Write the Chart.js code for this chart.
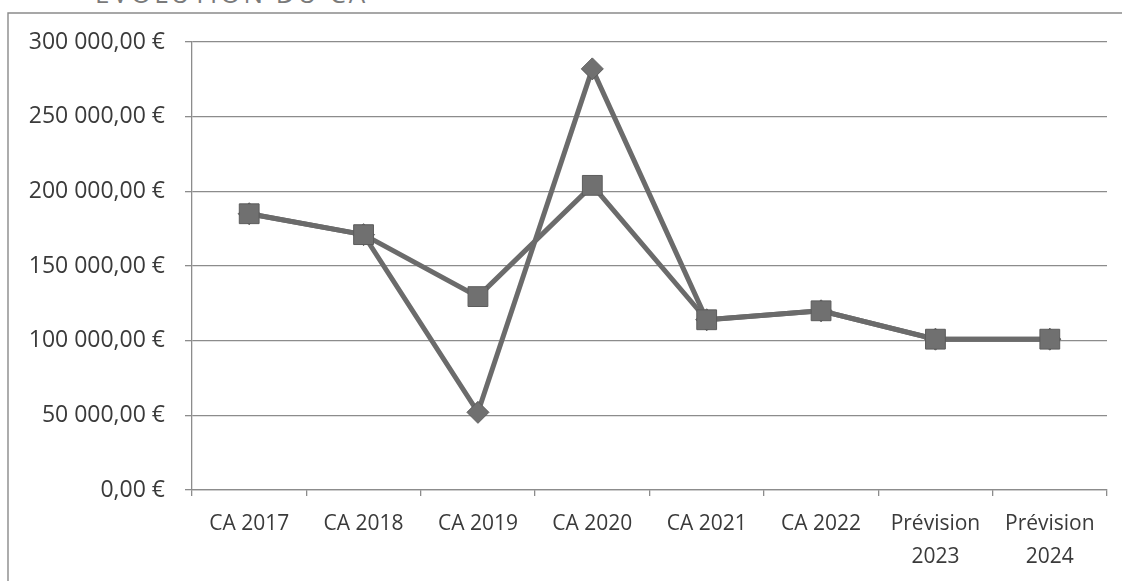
<!DOCTYPE html>
<html lang="fr">
<head>
<meta charset="utf-8">
<script src="https://cdn.jsdelivr.net/npm/chart.js@4/dist/chart.umd.min.js"></script>
<style>
  html, body { margin: 0; padding: 0; background: #fff; }
  #wrap { position: relative; width: 1122px; height: 581px; overflow: hidden; }
  #title {
    position: absolute; left: 95px; top: -25px;
    font-family: "Open Sans", sans-serif; font-size: 26px; letter-spacing: 3px;
    color: #7a7a7a; white-space: nowrap;
  }
  canvas { position: absolute; left: 0; top: 0; }
</style>
</head>
<body>
<div id="wrap">
  <div id="title">ÉVOLUTION DU CA</div>
  <canvas id="c" width="1122" height="581"></canvas>
</div>
<script>
// Categories (years and forecasts)
const categories = [
  'CA 2017', 'CA 2018', 'CA 2019', 'CA 2020', 'CA 2021', 'CA 2022',
  ['Prévision', '2023'], ['Prévision', '2024']
];

// Revenue series (square markers)
const caSquares = [185000, 171000, 129500, 204000, 114000, 120000, 101000, 101000];

// Revenue series (diamond markers)
const caDiamonds = [185000, 171000, 52000, 282000, 114000, 120000, 101000, 101000];

// Y tick values and their labels
const yTickValues = [0, 50000, 100000, 150000, 200000, 250000, 300000];
const yTickLabels = ['0,00 €', '50 000,00 €', '100 000,00 €', '150 000,00 €',
                     '200 000,00 €', '250 000,00 €', '300 000,00 €'];

const lineGray = '#6b6b6b';
const gridGray = '#8c8c8c';
const textGray = '#3a3a3a';

// Outer frame of the chart object
const framePlugin = {
  id: 'frame',
  beforeDraw(chart) {
    const ctx = chart.ctx;
    ctx.save();
    ctx.strokeStyle = '#8a8a8a';
    ctx.lineWidth = 1.4;
    ctx.beginPath();
    ctx.moveTo(8, 581);
    ctx.lineTo(8, 13);
    ctx.lineTo(1122, 13);
    ctx.stroke();
    ctx.restore();
  }
};

new Chart(document.getElementById('c'), {
  type: 'line',
  data: {
    labels: categories,
    datasets: [
      {
        label: 'CA',
        data: caSquares,
        borderColor: lineGray,
        backgroundColor: lineGray,
        borderWidth: 5,
        pointStyle: 'rect',
        pointRadius: 14,
        pointHoverRadius: 14,
        pointBackgroundColor: '#707070',
        pointBorderColor: '#5c5c5c',
        pointBorderWidth: 1,
        tension: 0,
        order: 0
      },
      {
        label: 'CA réel',
        data: caDiamonds,
        borderColor: lineGray,
        backgroundColor: lineGray,
        borderWidth: 5,
        pointStyle: 'rectRot',
        pointRadius: 11,
        pointHoverRadius: 11,
        pointBackgroundColor: '#707070',
        pointBorderColor: '#5c5c5c',
        pointBorderWidth: 1,
        tension: 0,
        order: 1
      }
    ]
  },
  options: {
    responsive: false,
    animation: false,
    layout: { padding: { left: 0, right: 15, top: 42, bottom: 0 } },
    plugins: {
      legend: { display: false },
      tooltip: { enabled: false },
      title: { display: false }
    },
    scales: {
      x: {
        offset: true,
        grid: {
          offset: true,
          drawOnChartArea: false,
          drawTicks: true,
          tickLength: 6,
          color: gridGray,
          lineWidth: 1.3
        },
        border: { display: true, color: gridGray, width: 1.3 },
        ticks: {
          color: textGray,
          font: { family: '"Open Sans", sans-serif', size: 21, lineHeight: 1.55 },
          padding: 12,
          maxRotation: 0,
          autoSkip: false
        },
        afterFit(scale) { scale.height = 91; }
      },
      y: {
        min: 0,
        max: 300000,
        afterBuildTicks(scale) {
          scale.ticks = yTickValues.map(v => ({ value: v }));
        },
        grid: {
          drawOnChartArea: true,
          drawTicks: true,
          tickLength: 7,
          color: gridGray,
          lineWidth: 1.3
        },
        border: { display: true, color: gridGray, width: 1.3 },
        ticks: {
          color: textGray,
          font: { family: '"Open Sans", sans-serif', size: 23 },
          padding: 20,
          callback(value) {
            const i = yTickValues.indexOf(value);
            return i >= 0 ? yTickLabels[i] : '';
          }
        },
        afterFit(scale) { scale.width = 192; }
      }
    }
  },
  plugins: [framePlugin]
});
</script>
</body>
</html>
